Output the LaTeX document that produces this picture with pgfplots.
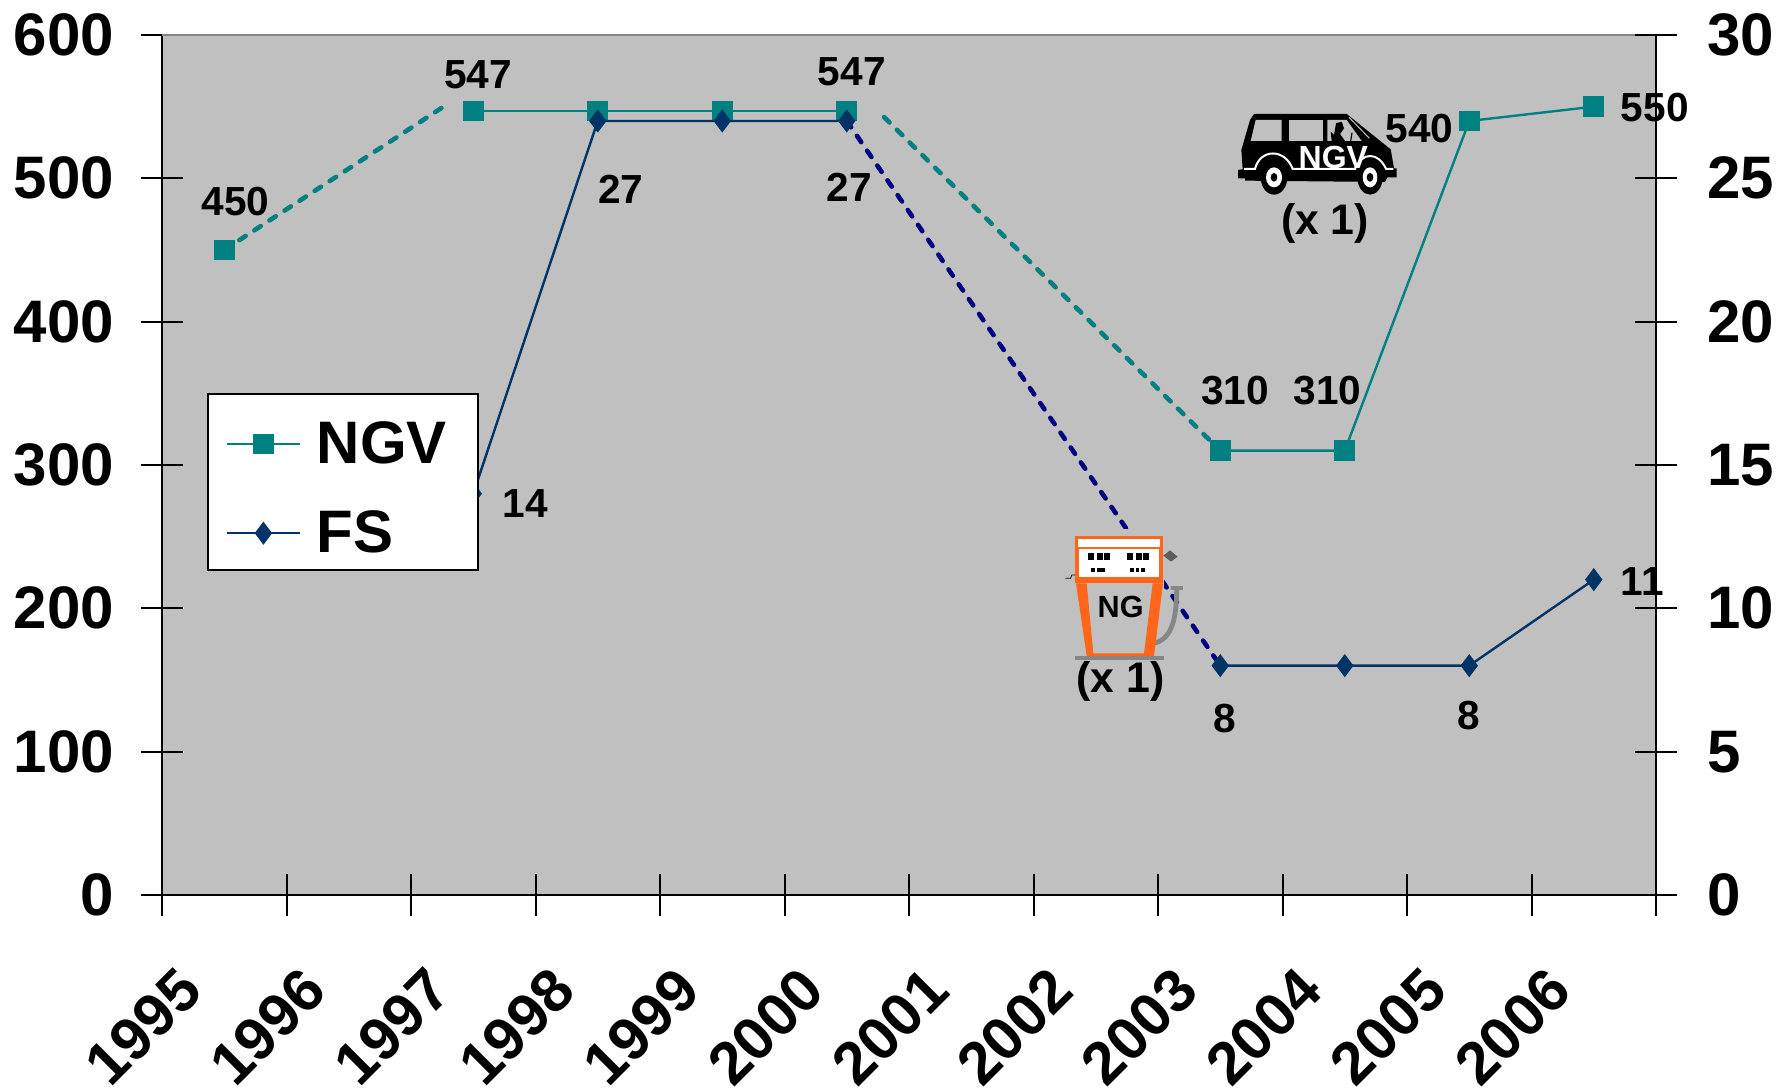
\documentclass[border=0pt]{standalone}
\usepackage{fontspec}
\setmainfont{Liberation Sans}
\usepackage{pgfplots}
\pgfplotsset{compat=1.18}
\definecolor{bgg}{HTML}{C0C0C0}
\definecolor{ngv}{HTML}{008080}
\definecolor{fs}{HTML}{003366}
\definecolor{fsd}{HTML}{000080}
\definecolor{pump}{HTML}{FF6619}
\definecolor{pgray}{HTML}{868686}
\newcommand{\lab}[3]{\node[font=\fontsize{20.3}{24}\bfseries\selectfont,inner sep=0pt] at (axis cs:#1,#2) {#3};}
\pgfplotsset{base/.style={
  scale only axis, width=747pt, height=430pt,
  at={(81pt,97.5pt)}, anchor=south west,
  xmin=0, xmax=12,
  axis line style={line width=1pt,black},
  tick style={line width=1pt,black},
  tick align=center,
  major tick length=21pt,
  clip=false,
  tick label style={font=\fontsize{30}{36}\bfseries\selectfont},
  /pgf/number format/assume math mode=true,
  /pgf/number format/1000 sep={},
}}
\begin{document}
\begin{tikzpicture}
\useasboundingbox (0,0) rectangle (894pt,545pt);
% left axis: NGV
\begin{axis}[base,
  axis background/.style={fill=bgg},
  ymin=0, ymax=600, ytick={0,100,...,600},
  axis y line*=left, axis x line*=bottom,
  xtick={0,1,...,12},
  x tick label as interval,
  xticklabels={1995,1996,1997,1998,1999,2000,2001,2002,2003,2004,2005,2006},
  xticklabel style={rotate=45,anchor=north east,xshift=-31pt,yshift=3.6pt},
  yticklabel style={xshift=-10pt},
]
\draw[pgray,line width=1pt] (axis cs:0,600) -- (axis cs:12,600);
\addplot[ngv,line width=2.3pt,dash pattern=on 3.8pt off 5.2pt,line cap=round] coordinates {(0.5,450) (2.244,549)};
\addplot[ngv,line width=2.3pt,dash pattern=on 3.8pt off 5.2pt,line cap=round] coordinates {(5.80,542.7) (8.5,310)};
\addplot[ngv,line width=1.2pt,mark=square*,mark size=4.6pt,mark options={solid,fill=ngv,draw=ngv}] coordinates {(0.5,450)};
\addplot[ngv,line width=1.2pt,mark=square*,mark size=4.6pt,mark options={solid,fill=ngv,draw=ngv}] coordinates {(2.5,547) (3.5,547) (4.5,547) (5.5,547)};
\addplot[ngv,line width=1.2pt,mark=square*,mark size=4.6pt,mark options={solid,fill=ngv,draw=ngv}] coordinates {(8.5,310) (9.5,310) (10.5,540) (11.5,550)};
\end{axis}
% right axis: FS
\begin{axis}[base,
  ymin=0, ymax=30, ytick={0,5,...,30},
  axis y line*=right, axis x line=none,
  xtick=\empty,
  yticklabel style={xshift=11.5pt},
  legend style={at={(0.0300,0.5840)},anchor=north west,draw=black,line width=1pt,fill=white,
    font=\fontsize{30}{36}\bfseries\selectfont,cells={anchor=west},inner xsep=8.9pt,inner ysep=5pt,row sep=18pt},
  legend image code/.code={\draw[mark repeat=2,mark phase=2,#1] plot coordinates {(0pt,0pt) (18.3pt,0pt) (36.7pt,0pt)}; \path (42.4pt,0pt);},
  legend cell align=left,
]
\addplot[fs,line width=1.2pt,mark=diamond*,mark size=4.8pt,mark options={solid,fill=fs,draw=fs},forget plot] coordinates {(2.5,14) (3.5,27) (4.5,27) (5.5,27)};
\addplot[fs,line width=1.2pt,mark=diamond*,mark size=4.8pt,mark options={solid,fill=fs,draw=fs},forget plot] coordinates {(8.5,8) (9.5,8) (10.5,8) (11.5,11)};
\addplot[fsd,line width=2.3pt,dash pattern=on 3.8pt off 5.2pt,line cap=round,forget plot] coordinates {(5.5,27) (8.5,8)};
\addlegendimage{ngv,line width=1.2pt,yshift=-3.4pt,mark=square*,mark size=4.6pt,mark options={solid,fill=ngv,draw=ngv}}
\addlegendentry{\rule{0pt}{28pt}NGV\kern4.5pt}
\addlegendimage{fs,line width=1.2pt,mark=diamond*,mark size=4.8pt,mark options={solid,fill=fs,draw=fs}}
\addlegendentry{FS}
\end{axis}
% data labels in NGV scale
\begin{axis}[base,hide axis,ymin=0,ymax=600]
\lab{0.59}{484}{450}
\lab{2.54}{572.6}{547}
\lab{5.54}{574.6}{547}
\lab{8.62}{352}{310}
\lab{9.36}{352}{310}
\lab{10.10}{534.5}{540}
\lab{11.99}{549.6}{550}
\lab{2.92}{273}{14}
\lab{3.685}{492}{27}
\lab{5.52}{494}{27}
\lab{8.54}{123}{8}
\lab{10.5}{125}{8}
\lab{11.89}{219}{11}
\end{axis}
% van icon, in 3x zoom pixels of crop (1050,60)
\begin{scope}[shift={(525pt,515pt)},x=0.16667pt,y=-0.16667pt]
\fill[black] (612,162) -- (890,162) -- (1022,268) -- (1032,325) -- (1040,325) -- (1040,352) -- (1012,352) -- (1005,366) -- (585,362) -- (585,355) -- (564,355) -- (564,330) -- (578,328) -- (574,270) -- (600,180) -- cycle;
\fill[bgg] (617,180) -- (695,180) -- (695,243) -- (602,243) -- cycle;
\fill[bgg] (716,180) -- (818,180) -- (818,243) -- (716,243) -- cycle;
\fill[bgg] (832,180) -- (890,180) -- (935,243) -- (832,243) -- cycle;
\draw[bgg,line width=0.5pt] (897,172) -- (958,235);
\fill[black] (845,243) -- (842,215) -- (852,225) -- (858,190) -- (875,185) -- (882,205) -- (870,222) -- (885,243) -- cycle;
\draw[black,line width=0.6pt] (902,243) -- (906,218);
\draw[white,line width=1pt] (582,327) -- (615,327) .. controls (630,265) and (705,265) .. (728,327) -- (915,327) .. controls (935,275) and (985,275) .. (1008,327) -- (1030,327);
\fill[black] (672,352) ellipse [x radius=40,y radius=52];
\fill[black] (960,352) ellipse [x radius=38,y radius=52];
\fill[white] (672,352) ellipse [x radius=24,y radius=30];
\fill[white] (960,352) ellipse [x radius=22,y radius=30];
\fill[black] (672,352) ellipse [x radius=10,y radius=13];
\fill[black] (960,352) ellipse [x radius=10,y radius=13];
\node[white,font=\fontsize{16}{18}\bfseries\selectfont,inner sep=0pt] at (850,294) {NGV};
\node[font=\fontsize{21.4}{26}\bfseries\selectfont,inner sep=0pt] at (825,490) {(x 1)};
\end{scope}
% pump icon, in 3x zoom pixels of crop (1030,500)
\begin{scope}[shift={(515pt,295pt)},x=0.16667pt,y=-0.16667pt]
\fill[bgg] (135,88) rectangle (402,262);
\fill[bgg] (138,250) -- (399,250) -- (399,300) -- (342,468) -- (170,468) -- cycle;
\draw[pgray,line width=2.4pt] (370,430) .. controls (420,420) and (440,370) .. (440,265);
\fill[pgray] (422,258) rectangle (459,270);
\fill[pump] (135,108) rectangle (399,250);
\fill[white] (144,117) rectangle (390,141);
\fill[white] (148,147) rectangle (387,232);
\fill[pump] (138,250) -- (170,250) -- (190,460) -- (342,460) -- (368,250) -- (399,250) -- (372,468) -- (170,468) -- cycle;
\fill[pgray] (135,468) rectangle (402,480);
\foreach \x in {174,201,222,291,318,339} {\fill[black] (\x,159) rectangle (\x+18,180);}
\foreach \x/\w in {183/12,201/24,300/12,318/9,333/12} {\fill[black] (\x,204) rectangle (\x+\w,216);}
\fill[pgray!70!black] (400,167) -- (420,151) -- (443,170) -- (423,185) -- cycle;
\draw[black,line width=0.4pt] (106,235) -- (122,235) -- (125,225) -- (135,225);
\node[font=\fontsize{15.3}{18}\bfseries\selectfont,inner sep=0pt] at (272,320) {NG};
\node[font=\fontsize{21.4}{26}\bfseries\selectfont,inner sep=0pt] at (272,545) {(x 1)};
\end{scope}
\end{tikzpicture}
\end{document}
